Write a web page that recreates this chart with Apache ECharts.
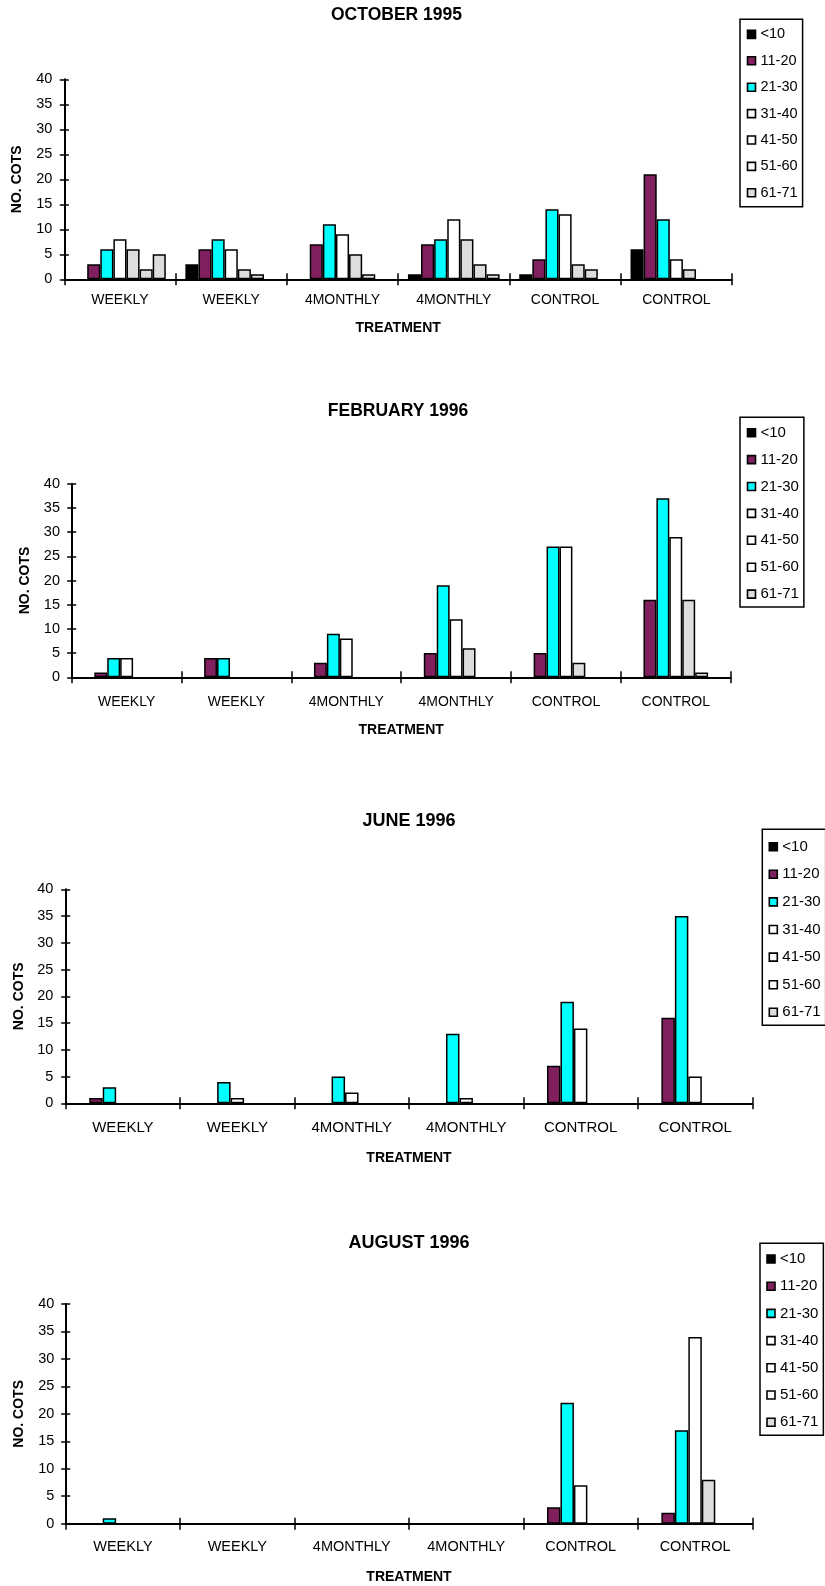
<!DOCTYPE html>
<html>
<head>
<meta charset="utf-8">
<script src="https://cdn.jsdelivr.net/npm/echarts@6/dist/echarts.min.js"></script>
<style>
  html, body { margin: 0; padding: 0; background: #ffffff; }
  #chart { width: 825px; height: 1586px; }
</style>
</head>
<body>
<div id="chart"></div>
<script>
// Treatment sites along the x axis
const treatments = ['WEEKLY', 'WEEKLY', '4MONTHLY', '4MONTHLY', 'CONTROL', 'CONTROL'];
// Size classes (cm) drawn as the bar series
const sizeClasses = ['<10', '11-20', '21-30', '31-40', '41-50', '51-60', '61-71'];
const panelTitles = ['OCTOBER 1995', 'FEBRUARY 1996', 'JUNE 1996', 'AUGUST 1996'];

// Counts per size class (one row per class, one column per treatment site)
const october1995 = [
  [0, 3, 0, 1, 1, 6],
  [3, 6, 7, 7, 4, 21],
  [6, 8, 11, 8, 14, 12],
  [8, 6, 9, 12, 13, 4],
  [6, 2, 5, 8, 3, 2],
  [2, 1, 1, 3, 2, 0],
  [5, 0, 0, 1, 0, 0]
];
const february1996 = [
  [0, 0, 0, 0, 0, 0],
  [1, 4, 3, 5, 5, 16],
  [4, 4, 9, 19, 27, 37],
  [4, 0, 8, 12, 27, 29],
  [0, 0, 0, 6, 3, 16],
  [0, 0, 0, 0, 0, 1],
  [0, 0, 0, 0, 0, 0]
];
const june1996 = [
  [0, 0, 0, 0, 0, 0],
  [1, 0, 0, 0, 7, 16],
  [3, 4, 5, 13, 19, 35],
  [0, 1, 2, 1, 14, 5],
  [0, 0, 0, 0, 0, 0],
  [0, 0, 0, 0, 0, 0],
  [0, 0, 0, 0, 0, 0]
];
const august1996 = [
  [0, 0, 0, 0, 0, 0],
  [0, 0, 0, 0, 3, 2],
  [1, 0, 0, 0, 22, 17],
  [0, 0, 0, 0, 7, 34],
  [0, 0, 0, 0, 0, 8],
  [0, 0, 0, 0, 0, 0],
  [0, 0, 0, 0, 0, 0]
];
const panelData = [october1995, february1996, june1996, august1996];

// Styling
const FONT = "'Liberation Sans', Arial, Helvetica, sans-serif";
const barColors = ['#000000', '#80205F', '#00FFFF', '#FFFFFF', '#DDDDDD', '#DDDDDD', '#DDDDDD'];
const legendSwatch = ['#000000', '#80205F', '#00FFFF', '#FFFFFF', '#FFFFFF', '#FFFFFF', '#DDDDDD'];

// Layout of each panel
const layouts = [
  { grid: { left: 64.3, top: 79.3, width: 667.7, height: 200 },
    title: { x: 396.5, y: 6.5, size: 17.5 },
    legend: { left: 740, top: 19.3, gap: 11.4, pad: [7.6, 5, 6.4, 6.7], size: 14.5 },
    xLabelMargin: 13.5, xNameGap: 42, yLabelMargin: 12, yNameGap: 40, xLabelSize: 14 },
  { grid: { left: 71.7, top: 483.7, width: 659, height: 193.6 },
    title: { x: 398, y: 402.5, size: 17.5 },
    legend: { left: 740, top: 417.3, gap: 11.9, pad: [7.9, 5, 5.5, 6.7], size: 15 },
    xLabelMargin: 18, xNameGap: 45.5, yLabelMargin: 11.7, yNameGap: 40, xLabelSize: 14 },
  { grid: { left: 65.7, top: 889.3, width: 686.6, height: 214 },
    title: { x: 409, y: 812.5, size: 18 },
    legend: { left: 762.3, top: 829.3, gap: 12.6, pad: [9.9, 5, 5.5, 6.2], size: 15 },
    xLabelMargin: 17.5, xNameGap: 48, yLabelMargin: 12.4, yNameGap: 38.4, xLabelSize: 15 },
  { grid: { left: 65.7, top: 1304, width: 686.6, height: 219.7 },
    title: { x: 409, y: 1234.5, size: 18 },
    legend: { left: 760, top: 1243.3, gap: 12.2, pad: [8.2, 5, 5.5, 6.2], size: 15 },
    xLabelMargin: 15.8, xNameGap: 46, yLabelMargin: 11.4, yNameGap: 40, xLabelSize: 14.5 }
];

const option = {
  backgroundColor: '#ffffff',
  animation: false,
  title: [], grid: [], xAxis: [], yAxis: [], legend: [], series: []
};

layouts.forEach((L, p) => {
  option.title.push({
    text: panelTitles[p], left: L.title.x, top: L.title.y, textAlign: 'center', padding: 0,
    textStyle: { fontFamily: FONT, fontSize: L.title.size, fontWeight: 'bold', color: '#000' }
  });
  option.grid.push(Object.assign({ containLabel: false }, L.grid));

  // main category axis with ticks below the line
  option.xAxis.push({
    type: 'category', gridIndex: p, data: treatments, position: 'bottom',
    name: 'TREATMENT', nameLocation: 'middle', nameGap: L.xNameGap,
    nameTextStyle: { fontFamily: FONT, fontSize: 14, fontWeight: 'bold', color: '#000' },
    axisLine: { lineStyle: { color: '#000', width: 2 } },
    axisTick: { show: true, length: 6, lineStyle: { color: '#000', width: 1.5 } },
    axisLabel: { margin: L.xLabelMargin, fontFamily: FONT, fontSize: L.xLabelSize, color: '#000', interval: 0 },
    splitLine: { show: false },
    z: 3
  });
  // companion axis drawing the upper half of each crossing tick
  option.xAxis.push({
    type: 'category', gridIndex: p, data: treatments, position: 'bottom', offset: 0,
    axisLine: { show: false }, axisLabel: { show: false }, splitLine: { show: false },
    axisTick: { show: true, inside: true, length: 6, lineStyle: { color: '#000', width: 1.5 } }
  });

  option.yAxis.push({
    type: 'value', gridIndex: p, min: 0, max: 40, interval: 5, position: 'left',
    name: 'NO. COTS', nameLocation: 'middle', nameGap: L.yNameGap, nameRotate: 90,
    nameTextStyle: { fontFamily: FONT, fontSize: 14, fontWeight: 'bold', color: '#000' },
    axisLine: { show: true, lineStyle: { color: '#000', width: 2 } },
    axisTick: { show: true, length: 4.5, lineStyle: { color: '#000', width: 1.5 } },
    axisLabel: { margin: L.yLabelMargin, fontFamily: FONT, fontSize: 14.5, color: '#000' },
    splitLine: { show: false }
  });
  option.yAxis.push({
    type: 'value', gridIndex: p, min: 0, max: 40, interval: 5, position: 'left', offset: 0,
    axisLine: { show: false }, axisLabel: { show: false }, splitLine: { show: false },
    axisTick: { show: true, inside: true, length: 4.5, lineStyle: { color: '#000', width: 1.5 } }
  });

  option.legend.push({
    orient: 'vertical', left: L.legend.left, top: L.legend.top,
    itemWidth: 8, itemHeight: 8, itemGap: L.legend.gap, icon: 'rect',
    padding: L.legend.pad, borderColor: '#000', borderWidth: 1.5,
    selectedMode: false,
    textStyle: { fontFamily: FONT, fontSize: L.legend.size, color: '#000' },
    itemStyle: { borderColor: '#000', borderWidth: 1.6 },
    data: sizeClasses.map((name, k) => ({ name, itemStyle: { color: legendSwatch[k] } }))
  });

  sizeClasses.forEach((name, k) => {
    option.series.push({
      type: 'bar', name, xAxisIndex: 2 * p, yAxisIndex: 2 * p,
      // a count of zero leaves its slot empty rather than drawing a flat outline
      data: panelData[p][k].map(v => (v === 0 ? '-' : v)),
      barGap: '0%', barCategoryGap: '17.6%',
      itemStyle: { color: barColors[k], borderColor: '#000', borderWidth: 1.5 },
      emphasis: { disabled: true }
    });
  });
});

const chart = echarts.init(document.getElementById('chart'), null, { renderer: 'canvas' });
chart.setOption(option);
</script>
</body>
</html>
